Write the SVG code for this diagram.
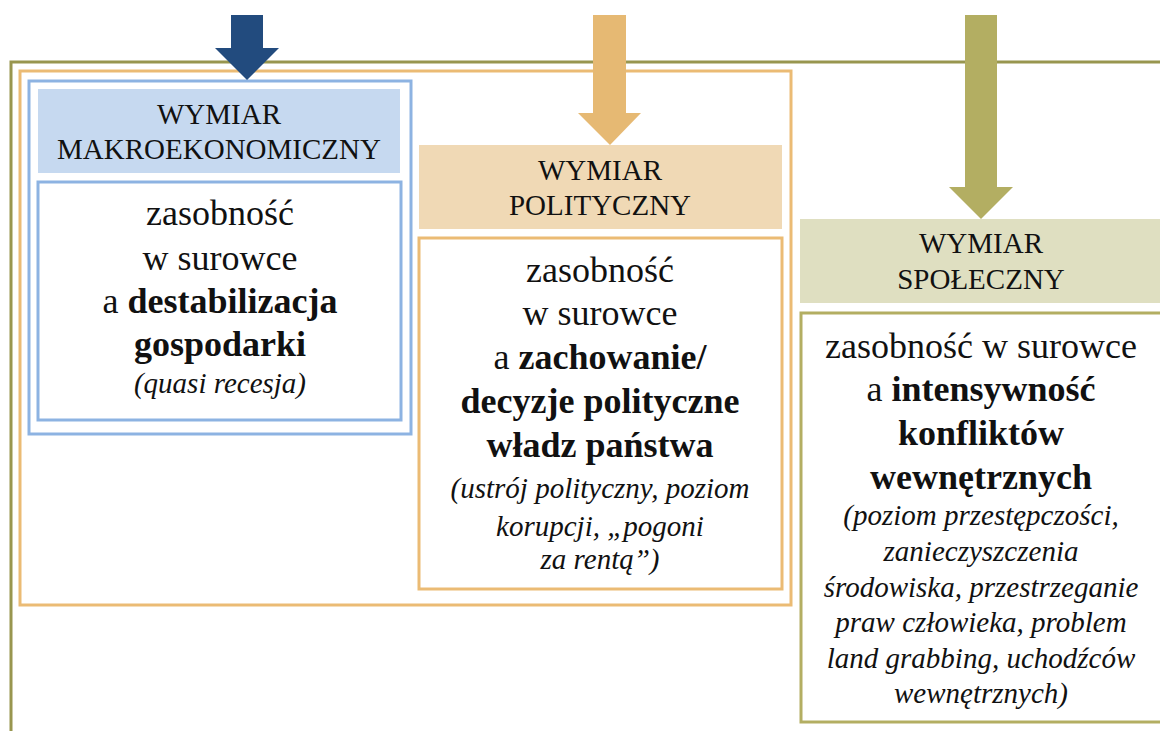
<svg xmlns="http://www.w3.org/2000/svg" width="1160" height="731" viewBox="0 0 1160 731">
  <style>
    text { font-family: "Liberation Serif", "Times New Roman", serif; fill: #111; text-anchor: middle; }
    .hd { font-size: 29px; }
    .bd { font-size: 36px; }
    .b { font-weight: bold; }
    .it { font-size: 29px; font-style: italic; }
    .frame { fill: none; stroke-width: 3; }
  </style>

  <rect width="1160" height="731" fill="#ffffff"/>

  <!-- nested frames -->
  <g id="frames">
    <path class="frame" d="M11 731 V62 H1162" stroke="#98964f"/>
    <rect class="frame" x="20" y="71" width="771" height="534" stroke="#ebbb74"/>
    <rect class="frame" x="29" y="81" width="382" height="353" stroke="#8db3e2"/>
  </g>

  <!-- macroeconomic dimension -->
  <g id="makro">
    <rect x="38" y="89" width="362" height="84" fill="#c6d9f0"/>
    <text class="hd" x="219" y="124">WYMIAR</text>
    <text class="hd" x="219" y="159">MAKROEKONOMICZNY</text>
    <rect x="38" y="182" width="363" height="238" fill="#ffffff" stroke="#8db3e2" stroke-width="3"/>
    <text class="bd" x="220" y="225">zasobność</text>
    <text class="bd" x="220" y="270">w surowce</text>
    <text class="bd" x="220" y="313">a <tspan class="b">destabilizacja</tspan></text>
    <text class="bd b" x="220" y="356">gospodarki</text>
    <text class="it" x="220" y="393">(quasi recesja)</text>
  </g>

  <!-- political dimension -->
  <g id="polityczny">
    <rect x="419" y="145" width="363" height="84" fill="#f0d9b5"/>
    <text class="hd" x="600" y="180">WYMIAR</text>
    <text class="hd" x="600" y="215">POLITYCZNY</text>
    <rect x="419" y="238" width="363" height="351" fill="#ffffff" stroke="#ebbb74" stroke-width="3"/>
    <text class="bd" x="600" y="282">zasobność</text>
    <text class="bd" x="600" y="325">w surowce</text>
    <text class="bd" x="600" y="369">a <tspan class="b">zachowanie/</tspan></text>
    <text class="bd b" x="600" y="413">decyzje polityczne</text>
    <text class="bd b" x="600" y="457">władz państwa</text>
    <text class="it" x="600" y="498">(ustrój polityczny, poziom</text>
    <text class="it" x="600" y="536">korupcji, „pogoni</text>
    <text class="it" x="600" y="569">za rentą”)</text>
  </g>

  <!-- social dimension -->
  <g id="spoleczny">
    <rect x="800" y="219" width="362" height="84" fill="#dfdfc1"/>
    <text class="hd" x="981" y="253">WYMIAR</text>
    <text class="hd" x="981" y="289">SPOŁECZNY</text>
    <rect x="801" y="313" width="372" height="409" fill="#ffffff" stroke="#b3ae62" stroke-width="3"/>
    <text class="bd" x="981" y="358">zasobność w surowce</text>
    <text class="bd" x="981" y="401">a <tspan class="b">intensywność</tspan></text>
    <text class="bd b" x="981" y="445">konfliktów</text>
    <text class="bd b" x="981" y="489">wewnętrznych</text>
    <text class="it" x="981" y="525">(poziom przestępczości,</text>
    <text class="it" x="981" y="561">zanieczyszczenia</text>
    <text class="it" x="981" y="597">środowiska, przestrzeganie</text>
    <text class="it" x="981" y="632">praw człowieka, problem</text>
    <text class="it" x="981" y="668">land grabbing, uchodźców</text>
    <text class="it" x="981" y="703">wewnętrznych)</text>
  </g>

  <!-- block arrows pointing into each dimension -->
  <g id="connectors">
    <polygon points="231,15 263,15 263,48 279,48 247,80 215,48 231,48" fill="#224b7e"/>
    <polygon points="593,15 626,15 626,113 641,113 610,145 578,113 593,113" fill="#e6b973"/>
    <polygon points="965,15 997,15 997,187 1013,187 981,219 949,187 965,187" fill="#b3ae62"/>
  </g>
</svg>
